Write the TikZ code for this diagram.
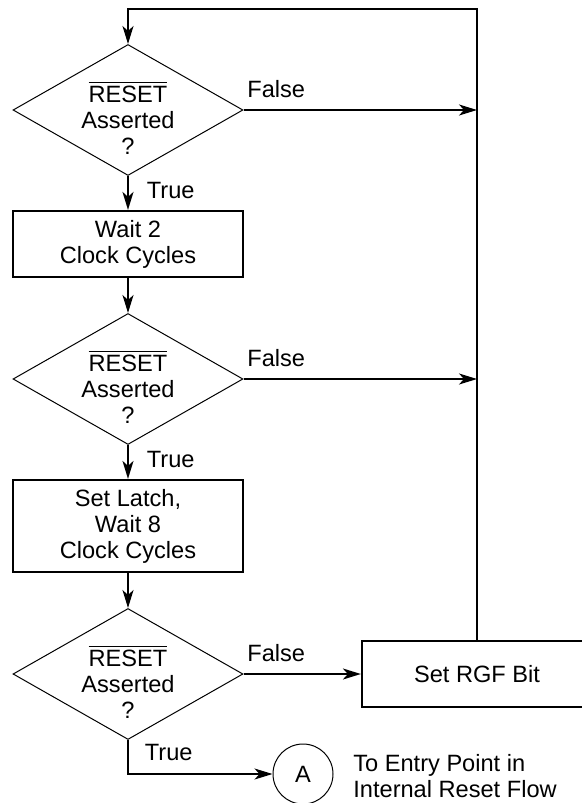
\documentclass[tikz,border=0pt]{standalone}
\usepackage{fontspec}
\setmainfont{Liberation Sans}
\usetikzlibrary{positioning,shapes.geometric,arrows.meta}
\usepackage{amsmath}

\newcommand{\rstasked}{$\overline{\mbox{RESET}}$\\Asserted\\?}

\begin{document}
\begin{tikzpicture}[x=0.5pt,y=-0.5pt,font=\fontsize{11.8}{13}\selectfont]
\tikzstyle{every node}+=[inner sep=0pt]
\tikzstyle{decision}=[draw, diamond, line width=0.5pt, minimum width=115pt, minimum height=65.5pt,
  label={[align=center,yshift=-4pt]center:{\rstasked}}]
\tikzstyle{process}=[draw, rectangle, line width=1.1pt, minimum width=115pt, align=center]
\tikzstyle{flow}=[line width=0.9pt, -{Stealth[length=9pt,width=5.5pt,inset=2.5pt]}]
\useasboundingbox (0,0) rectangle (582,803);
% main column
\node[decision] (q1) at (128,110) {};
\node[process, minimum height=33pt] (wait2) at (128,244) {Wait 2\\Clock Cycles};
\node[decision] (q2) at (128,379) {};
\node[process, minimum height=46pt] (wait8) at (128,526) {Set Latch,\\Wait 8\\Clock Cycles};
\node[decision] (q3) at (128,674) {};
% right side
\node[process, minimum height=33pt] (rgf) at (477,674) {Set RGF Bit};
\node[draw, circle, line width=0.5pt, minimum size=30pt] (ptA) at (303,774) {A};
\node[anchor=west, align=left] (entry) at (353,776) {To Entry Point in\\Internal Reset Flow};
\coordinate (top) at (477,9);
\coordinate (ret) at (128,9);
\coordinate (turn) at (128,774);
% connectors
\draw[flow] (rgf.north) -- (top) -- (ret) -- (q1.north);
\draw[flow] (q1.south) -- (wait2.north) node[pos=0, anchor=north west, xshift=9pt, yshift=-2.5pt] {True};
\draw[flow] (wait2.south) -- (q2.north);
\draw[flow] (q2.south) -- (wait8.north) node[pos=0, anchor=north west, xshift=9pt, yshift=-2.5pt] {True};
\draw[flow] (wait8.south) -- (q3.north);
\draw[flow] (q1.east) -- (q1.east -| rgf.north) node[pos=0, anchor=south west, xshift=1.5pt, yshift=5.5pt] {False};
\draw[flow] (q2.east) -- (q2.east -| rgf.north) node[pos=0, anchor=south west, xshift=1.5pt, yshift=5.5pt] {False};
\draw[flow] (q3.east) -- (rgf.west) node[pos=0, anchor=south west, xshift=1.5pt, yshift=5.5pt] {False};
\draw[flow] (q3.south) node[anchor=north west, xshift=8pt, yshift=-1.5pt] {True} -- (turn) -- (ptA.west);
\end{tikzpicture}
\end{document}
